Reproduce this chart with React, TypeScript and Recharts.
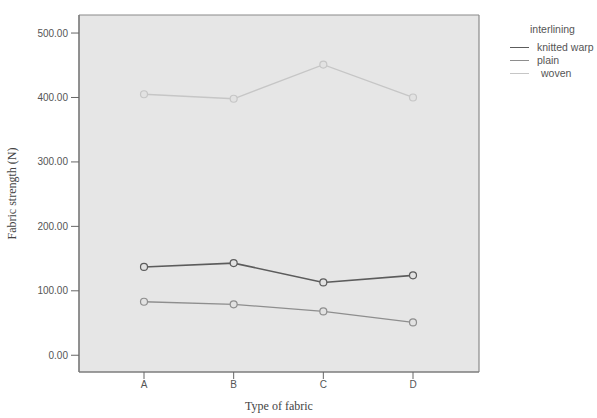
import React from "react";
import { LineChart, Line, XAxis, YAxis, CartesianGrid } from "recharts";

const categories = ["A", "B", "C", "D"];
const knittedWarp = [137, 143, 113, 124];
const plain = [83, 79, 68, 51];
const woven = [405, 398, 451, 400];
const yTicks = [0, 100, 200, 300, 400, 500];

const seriesInfo = [
  { key: "knitted warp", color: "#5c5c5c", width: 1.6 },
  { key: "plain", color: "#8e8e8e", width: 1.3 },
  { key: "woven", color: "#c6c6c6", width: 1.3 },
];

const data = categories.map((c, i) => ({
  cat: c,
  "knitted warp": knittedWarp[i],
  plain: plain[i],
  woven: woven[i],
}));

const tickStyle = { fontFamily: "Arial, 'Liberation Sans', sans-serif", fontSize: 10, fill: "#555" };

const LegendBox = () => (
  <div
    style={{
      position: "absolute",
      left: 510,
      top: 24,
      width: 87,
      overflow: "hidden",
      fontFamily: "Arial, 'Liberation Sans', sans-serif",
      fontSize: 10.5,
      color: "#555",
      lineHeight: "11px",
    }}
  >
    <div style={{ paddingLeft: 20, height: 11, marginBottom: 6 }}>interlining</div>
    {seriesInfo.map((s, i) => (
      <div key={s.key} style={{ display: "flex", alignItems: "center", height: 13 }}>
        <div style={{ width: 19, height: 0, borderTop: `${s.width}px solid ${s.color}`, marginRight: i === 2 ? 12 : 8, flex: "none" }} />
        <span style={{ whiteSpace: "nowrap" }}>{s.key}</span>
      </div>
    ))}
  </div>
);

export default function App() {
  return (
    <div style={{ position: "absolute", left: 0, top: 0, width: 597, height: 418, background: "#fff", overflow: "hidden" }}>
      <LineChart width={597} height={418} data={data} margin={{ top: 15, right: 118, bottom: 0, left: 0 }}>
        <CartesianGrid
          fill="#e6e6e6"
          stroke="#8a8a8a"
          strokeWidth={1.2}
          horizontalCoordinatesGenerator={({ offset }: any) => [offset.top, offset.top + offset.height]}
          verticalCoordinatesGenerator={({ offset }: any) => [offset.left, offset.left + offset.width]}
        />
        <XAxis
          dataKey="cat"
          padding={{ left: 65, right: 66 }}
          height={46}
          tick={tickStyle}
          tickSize={7}
          tickMargin={2}
          tickLine={{ stroke: "#666" }}
          axisLine={{ stroke: "#777", strokeWidth: 1.2 }}
          label={{
            value: "Type of fabric",
            position: "insideBottom",
            offset: 8,
            style: { fontFamily: "'Liberation Serif', 'Times New Roman', serif", fontSize: 12, fill: "#444" },
          }}
        />
        <YAxis
          width={79}
          domain={[-26, 528]}
          ticks={yTicks}
          tickFormatter={(v: number) => v.toFixed(2)}
          tick={tickStyle}
          tickSize={8}
          tickMargin={3}
          tickLine={{ stroke: "#666" }}
          axisLine={{ stroke: "#777", strokeWidth: 1.2 }}
          label={{
            value: "Fabric strength (N)",
            angle: -90,
            position: "insideLeft",
            offset: 12,
            style: { textAnchor: "middle", fontFamily: "'Liberation Serif', 'Times New Roman', serif", fontSize: 12, fill: "#444" },
          }}
        />
        {seriesInfo.map((s) => (
          <Line
            key={s.key}
            dataKey={s.key}
            stroke={s.color}
            strokeWidth={s.width}
            dot={{ r: 3.5, stroke: s.color, strokeWidth: 1.2, fill: "#e2e2e2" }}
            activeDot={false}
            isAnimationActive={false}
          />
        ))}
      </LineChart>
      <LegendBox />
    </div>
  );
}
